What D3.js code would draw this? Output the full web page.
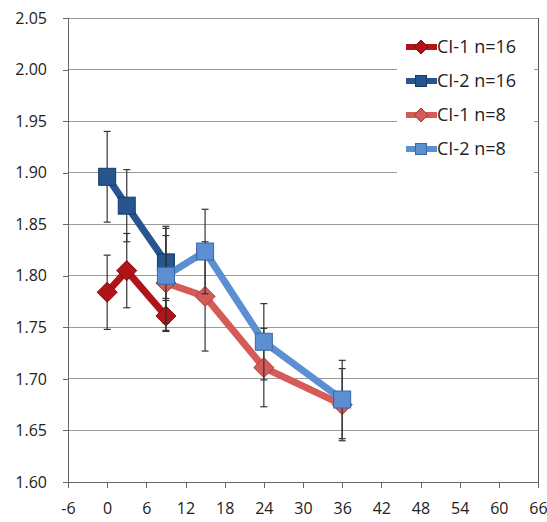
<!DOCTYPE html>
<html><head><meta charset="utf-8">
<script src="https://cdn.jsdelivr.net/npm/d3@7"></script>
<style>body{margin:0;background:#fff}svg{display:block}text{font-family:"Open Sans",sans-serif;fill:#222}</style>
</head><body><svg id="c" width="547" height="522"></svg>
<script>
// ---- data ----
const xTicks = [-6,0,6,12,18,24,30,36,42,48,54,60,66];
const yTicks = [1.60,1.65,1.70,1.75,1.80,1.85,1.90,1.95,2.00,2.05];
const months16 = [0,3,9];
const ci1n16 = [1.784,1.805,1.761];
const ci1n16Err = [0.036,0.036,0.015];
const ci2n16 = [1.896,1.868,1.813];
const ci2n16Err = [0.044,0.035,0.035];
const months8 = [9,15,24,36];
const ci1n8 = [1.793,1.780,1.711,1.675];
const ci1n8Err = [0.046,0.053,0.038,0.035];
const ci2n8 = [1.800,1.8235,1.736,1.680];
const ci2n8Err = [0.046,0.041,0.037,0.038];
const seriesNames = ["CI-1 n=16","CI-2 n=16","CI-1 n=8","CI-2 n=8"];

const series = [
  {name:seriesNames[0], xs:months16, ys:ci1n16, err:ci1n16Err, color:"#B01419", stroke:"#7a0a0e", shape:"diamond"},
  {name:seriesNames[1], xs:months16, ys:ci2n16, err:ci2n16Err, color:"#26558F", stroke:"#173a66", shape:"square"},
  {name:seriesNames[2], xs:months8, ys:ci1n8, err:ci1n8Err, color:"#D45B57", stroke:"#a63a37", shape:"diamond"},
  {name:seriesNames[3], xs:months8, ys:ci2n8, err:ci2n8Err, color:"#5B8FD2", stroke:"#3a68a5", shape:"square"}
];

const svg = d3.select("#c");
const L=68, R=538, T=18, B=482;
const x = d3.scaleLinear().domain([-6,66]).range([L,R]);
const y = d3.scaleLinear().domain([1.60,2.05]).range([B,T]);

// gridlines
svg.append("g").selectAll("line").data(yTicks).join("line")
  .attr("x1",L).attr("x2",R).attr("y1",d=>y(d)).attr("y2",d=>y(d))
  .attr("stroke","#9a9a9a").attr("stroke-width",1).attr("shape-rendering","crispEdges");

// right border
svg.append("line").attr("x1",R).attr("x2",R).attr("y1",T).attr("y2",B)
  .attr("stroke","#555").attr("shape-rendering","crispEdges");

// axes
const yAxis = d3.axisLeft(y).tickValues(yTicks).tickFormat(d3.format(".2f")).tickSize(5).tickPadding(16);
const gy = svg.append("g").attr("transform",`translate(${L},0)`).call(yAxis);
const xAxis = d3.axisBottom(x).tickValues(xTicks).tickFormat(d=>String(d)).tickSize(6).tickPadding(15);
const gx = svg.append("g").attr("transform",`translate(0,${B})`).call(xAxis);
[gy,gx].forEach(g=>{
  g.select(".domain").attr("stroke","#666").attr("shape-rendering","crispEdges");
  g.selectAll(".tick line").attr("stroke","#666").attr("shape-rendering","crispEdges");
  g.selectAll("text").attr("font-size",16).attr("font-family","Open Sans, sans-serif").attr("fill","#222");
});

// legend background
svg.append("rect").attr("x",397).attr("y",26).attr("width",137).attr("height",160).attr("fill","#fff");

const line = d3.line().x(d=>x(d[0])).y(d=>y(d[1]));
function marker(g, shape, cx, cy, size, s){
  if(shape==="square"){
    g.append("rect").attr("x",cx-size/2).attr("y",cy-size/2).attr("width",size).attr("height",size)
      .attr("fill",s.color).attr("stroke",s.stroke).attr("stroke-width",1);
  } else {
    const r=size/2+1.5;
    g.append("path").attr("d",`M${cx},${cy-r}L${cx+r},${cy}L${cx},${cy+r}L${cx-r},${cy}Z`)
      .attr("fill",s.color).attr("stroke",s.stroke).attr("stroke-width",1);
  }
}

series.forEach(s=>{
  const pts = s.xs.map((v,i)=>[v,s.ys[i]]);
  const g = svg.append("g");
  g.append("path").datum(pts).attr("d",line).attr("fill","none")
    .attr("stroke",s.color).attr("stroke-width",7).attr("stroke-linejoin","miter");
  // error bars
  s.xs.forEach((v,i)=>{
    const cx=x(v), y1=y(s.ys[i]+s.err[i]), y2=y(s.ys[i]-s.err[i]);
    g.append("line").attr("x1",cx).attr("x2",cx).attr("y1",y1).attr("y2",y2).attr("stroke","#333").attr("stroke-width",1.2);
    [y1,y2].forEach(yy=>g.append("line").attr("x1",cx-3.5).attr("x2",cx+3.5).attr("y1",yy).attr("y2",yy).attr("stroke","#333").attr("stroke-width",1.2));
  });
  pts.forEach(p=>marker(g, s.shape, x(p[0]), y(p[1]), 17, s));
});

// legend
const lg = svg.append("g");
series.forEach((s,i)=>{
  const ly = 47 + i*34;
  lg.append("line").attr("x1",406).attr("x2",437).attr("y1",ly).attr("y2",ly).attr("stroke",s.color).attr("stroke-width",6);
  marker(lg, s.shape, 421, ly, 11, s);
  lg.append("text").attr("x",437).attr("y",ly).attr("dy","0.35em").attr("font-size",18).text(s.name);
});
</script></body></html>
